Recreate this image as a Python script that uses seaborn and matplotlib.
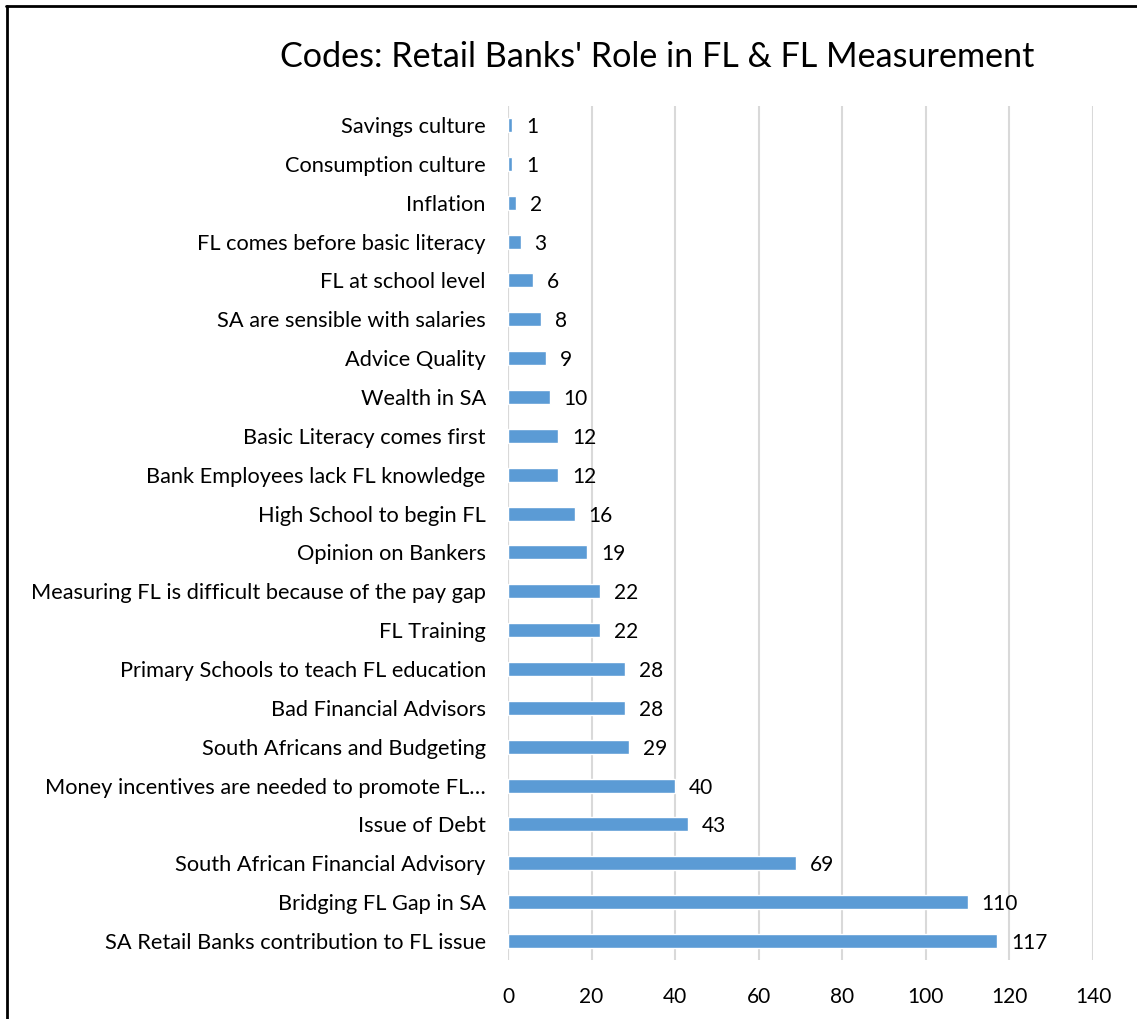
import matplotlib
matplotlib.use("Agg")
import matplotlib.pyplot as plt
import seaborn as sns
import pandas as pd
from matplotlib.lines import Line2D

codes = [
    "Savings culture",
    "Consumption culture",
    "Inflation",
    "FL comes before basic literacy",
    "FL at school level",
    "SA are sensible with salaries",
    "Advice Quality",
    "Wealth in SA",
    "Basic Literacy comes first",
    "Bank Employees lack FL knowledge",
    "High School to begin FL",
    "Opinion on Bankers",
    "Measuring FL is difficult because of the pay gap",
    "FL Training",
    "Primary Schools to teach FL education",
    "Bad Financial Advisors",
    "South Africans and Budgeting",
    "Money incentives are needed to promote FL\u2026",
    "Issue of Debt",
    "South African Financial Advisory",
    "Bridging FL Gap in SA",
    "SA Retail Banks contribution to FL issue",
]
counts = [1, 1, 2, 3, 6, 8, 9, 10, 12, 12, 16, 19, 22, 22, 28, 28, 29, 40, 43, 69, 110, 117]
x_ticks = [0, 20, 40, 60, 80, 100, 120, 140]
title = "Codes: Retail Banks' Role in FL & FL Measurement"

df = pd.DataFrame({"code": codes, "count": counts})

sns.set_theme(style="white")
plt.rcParams["font.family"] = ["Lato", "DejaVu Sans"]

fig = plt.figure(figsize=(11.37, 10.19), dpi=100)
ax = fig.add_axes([0.4468, 0.0575, 0.9613 - 0.4468, 0.8964 - 0.0575])

sns.barplot(data=df, x="count", y="code", orient="h", color="#5B9BD5",
            saturation=1, width=0.36, ax=ax)

ax.set_xlim(0, 140)
ax.set_xticks(x_ticks)
ax.set_xticklabels([str(t) for t in x_ticks], fontsize=15, color="#000000")
ax.tick_params(axis="y", labelsize=15.7, length=0, pad=16, colors="#000000")
ax.tick_params(axis="x", length=0, pad=19)
ax.set_xlabel("")
ax.set_ylabel("")
ax.grid(axis="x", color="#D9D9D9", linewidth=1.5)
ax.set_axisbelow(True)
for s in ax.spines.values():
    s.set_visible(False)
ax.axvline(0, color="#D9D9D9", linewidth=1.5, zorder=0)

for container in ax.containers:
    texts = ax.bar_label(container, labels=[str(v) for v in counts], padding=10,
                         fontsize=15, color="#000000")
    for t in texts:
        t.set_va("center_baseline")

fig.text(0.578, 0.944, title, ha="center", va="center", fontsize=24.6, color="#000000")

# frame lines along the left and top edges
fig.add_artist(Line2D([0.0062, 0.0062], [0.0, 0.994], transform=fig.transFigure,
                      color="black", linewidth=2))
fig.add_artist(Line2D([0.0053, 1.0], [0.994, 0.994], transform=fig.transFigure,
                      color="black", linewidth=2))

fig.savefig("out.png", dpi=100, facecolor="white")
